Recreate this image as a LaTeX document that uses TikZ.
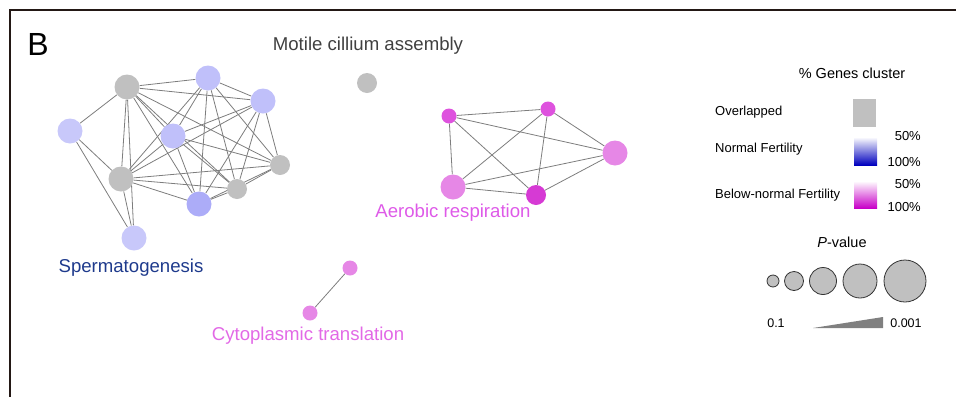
\documentclass[tikz,border=0pt]{standalone}
\usepackage{fontspec}
\setmainfont{Liberation Sans}
\usetikzlibrary{backgrounds}
\definecolor{grayc}{RGB}{192,192,192}
\definecolor{lav}{RGB}{192,192,250}
\definecolor{lavlight}{RGB}{200,200,250}
\definecolor{lavdark}{RGB}{172,172,248}
\definecolor{mag}{RGB}{222,82,222}
\definecolor{magdark}{RGB}{214,58,212}
\definecolor{pink}{RGB}{230,135,230}
\definecolor{edgec}{RGB}{125,125,125}
\definecolor{framec}{RGB}{35,24,21}
\definecolor{spermc}{RGB}{30,58,140}
\definecolor{aeroc}{RGB}{222,90,232}
\definecolor{cytoc}{RGB}{226,105,230}
\definecolor{motc}{RGB}{64,64,64}
\definecolor{bluec}{RGB}{0,0,190}
\definecolor{magc}{RGB}{200,0,200}
\definecolor{trig}{RGB}{128,128,128}
\tikzset{
  gn/.style={circle, inner sep=0pt, draw=none},
  edge/.style={draw=edgec, line width=0.8pt},
  big/.style={font=\fontsize{18.6}{22}\selectfont},
  leg/.style={font=\fontsize{13}{15}\selectfont, inner sep=0pt},
  pcirc/.style={circle, inner sep=0pt, fill=grayc, draw=black!80, line width=0.8pt}
}
\begin{document}
\begin{tikzpicture}[x=1pt,y=-1pt]
\useasboundingbox (0,0) rectangle (956,397);
\draw[framec, line width=1.5pt] (956,10) -- (10,10) -- (10,397);
\node[font=\fontsize{32}{36}\selectfont] (lblB) at (38,44) {B};

% left cluster
\node[gn, minimum size=25pt, fill=grayc] (g1) at (127,87) {};
\node[gn, minimum size=25pt, fill=lav] (l1) at (208,78) {};
\node[gn, minimum size=25pt, fill=lav] (l2) at (263,101) {};
\node[gn, minimum size=25pt, fill=lavlight] (l3) at (70,131) {};
\node[gn, minimum size=25pt, fill=lav] (l4) at (173,136) {};
\node[gn, minimum size=20pt, fill=grayc] (g2) at (280,165) {};
\node[gn, minimum size=25pt, fill=grayc] (g3) at (121,179) {};
\node[gn, minimum size=20pt, fill=grayc] (g4) at (237,189) {};
\node[gn, minimum size=25pt, fill=lavdark] (l5) at (199,204) {};
\node[gn, minimum size=25pt, fill=lavlight] (l6) at (134,238) {};

% right cluster
\node[gn, minimum size=20pt, fill=grayc] (gi) at (367,83) {};
\node[gn, minimum size=15pt, fill=mag] (a1) at (449,116) {};
\node[gn, minimum size=15pt, fill=mag] (a2) at (548,109) {};
\node[gn, minimum size=25pt, fill=pink] (a3) at (615,153) {};
\node[gn, minimum size=25pt, fill=pink] (a4) at (453,187) {};
\node[gn, minimum size=20pt, fill=magdark] (a5) at (536,195) {};

% cytoplasmic
\node[gn, minimum size=15pt, fill=pink] (c1) at (350,268) {};
\node[gn, minimum size=15pt, fill=pink] (c2) at (310,313) {};

\begin{pgfonlayer}{background}
\foreach \a/\b in {g1/l1,g1/l2,g1/l4,g1/g2,g1/g3,g1/g4,g1/l5,
  l1/l2,l1/l4,l1/g2,l1/g3,l1/g4,l1/l5,
  l2/l4,l2/g2,l2/g3,l2/g4,l2/l5,
  l4/g2,l4/g3,l4/g4,l4/l5,
  g2/g3,g2/g4,g2/l5,
  g3/g4,g3/l5,g4/l5,
  l3/g1,l3/g3,l3/l6,l6/g1,l6/g3,
  a1/a2,a1/a3,a1/a4,a1/a5,a2/a3,a2/a4,a2/a5,a3/a4,a3/a5,a4/a5,
  c1/c2}
  \draw[edge] (\a) -- (\b);
\end{pgfonlayer}

% labels
\node[big, text=motc] (tmot) at (368,46) {Motile cillium assembly};
\node[big, text=spermc] (tsp) at (131,268) {Spermatogenesis};
\node[big, text=aeroc] (tae) at (453,213) {Aerobic respiration};
\node[big, text=cytoc] (tcy) at (308,336) {Cytoplasmic translation};

% legend
\node[font=\fontsize{14.5}{17}\selectfont] (lgt) at (852,73) {\% Genes cluster};
\node[leg, anchor=west] (lov) at (715,112) {Overlapped};
\node[leg, anchor=west] (lnf) at (715,149) {Normal Fertility};
\node[leg, anchor=west] (lbf) at (715,195) {Below-normal Fertility};
\fill[grayc] (853,99) rectangle (876,127);
\shade[top color=white, bottom color=bluec] (854,137) rectangle (877,165);
\shade[top color=white, bottom color=magc] (854,181) rectangle (877,208);
\node[leg, anchor=east] (p50a) at (921,136) {50\%};
\node[leg, anchor=east] (p100a) at (921,162) {100\%};
\node[leg, anchor=east] (p50b) at (921,184) {50\%};
\node[leg, anchor=east] (p100b) at (921,207) {100\%};

\node[font=\fontsize{14.5}{17}\selectfont] (lpv) at (842,242) {\textit{P}-value};
\node[pcirc, minimum size=12pt] (pc1) at (773,281) {};
\node[pcirc, minimum size=19pt] (pc2) at (794,281) {};
\node[pcirc, minimum size=27pt] (pc3) at (823,281) {};
\node[pcirc, minimum size=34pt] (pc4) at (860,281) {};
\node[pcirc, minimum size=42pt] (pc5) at (905,281) {};
\node[leg, font=\fontsize{12.5}{15}\selectfont] (lp1) at (776,323) {0.1};
\node[leg, font=\fontsize{12.5}{15}\selectfont] (lp2) at (906,323) {0.001};
\fill[trig] (813,328) -- (883,328) -- (883,317) -- cycle;
\end{tikzpicture}
\end{document}
